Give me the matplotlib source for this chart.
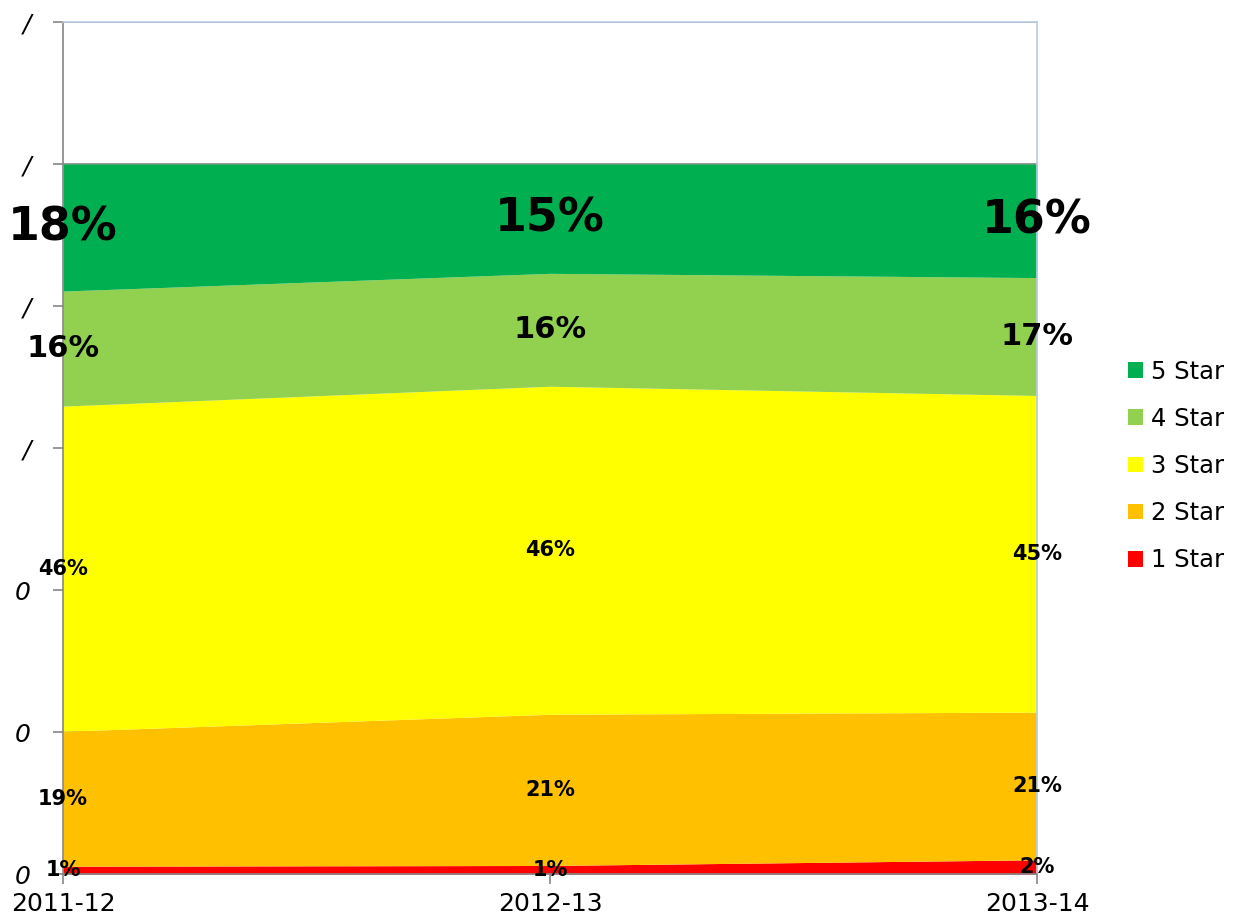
import matplotlib
matplotlib.use("Agg")
import matplotlib.pyplot as plt
import numpy as np
from matplotlib.patches import Patch

years = ["2011-12", "2012-13", "2013-14"]
series_names = ["1 Star", "2 Star", "3 Star", "4 Star", "5 Star"]
one_star = [1.1, 1.2, 2.0]
two_star = [19.0, 21.3, 20.8]
three_star = [45.8, 46.2, 44.6]
four_star = [16.2, 15.9, 16.6]
five_star = [17.9, 15.4, 16.0]
ytick_labels = ["0", "0", "0", "/", "/", "/", "/"]

colors = ["#FF0000", "#FFC000", "#FFFF00", "#92D050", "#00B050"]
label_sizes = [15, 15, 15, 22, 33]

data = np.array([one_star, two_star, three_star, four_star, five_star]) / 100.0
x = np.arange(len(years))

fig = plt.figure(figsize=(12.38, 9.16), dpi=100)
ax = fig.add_axes([63 / 1238, 42 / 916, (1037 - 63) / 1238, (874 - 22) / 916])

ax.set_xlim(0, 2)
ax.set_ylim(0, 1.2)
yt = np.arange(0, 1.21, 0.2)
ax.set_yticks(yt)
ax.set_yticklabels(ytick_labels, fontstyle="italic", fontsize=18)
ax.set_xticks(x)
ax.set_xticklabels(years, fontsize=18)

for v in yt:
    ax.axhline(v, color="#868686", lw=1.2, zorder=0)

bottom = np.zeros(len(years))
for i, (vals, col) in enumerate(zip(data, colors)):
    top = bottom + vals
    ax.fill_between(x, bottom, top, color=col, lw=0, zorder=1)
    for j in range(len(years)):
        ax.text(x[j], (bottom[j] + top[j]) / 2, f"{round(vals[j] * 100)}%",
                ha="center", va="center", fontsize=label_sizes[i],
                fontweight="bold", color="black", zorder=5, clip_on=False)
    bottom = top

for s in ["left", "bottom"]:
    ax.spines[s].set_color("#868686")
    ax.spines[s].set_linewidth(1.2)
for s in ["top", "right"]:
    ax.spines[s].set_color("#B9CDE5")
    ax.spines[s].set_linewidth(1.2)
for s in ax.spines.values():
    s.set_zorder(3)

ax.tick_params(axis="y", direction="out", length=7, width=1.2, color="#868686", pad=16)
ax.tick_params(axis="x", direction="out", length=7, width=1.2, color="#868686", pad=6)

handles = [Patch(facecolor=c, edgecolor="none") for c in colors][::-1]
labels = series_names[::-1]
fig.legend(handles, labels, loc="center left", bbox_to_anchor=(1106 / 1238, 1 - 466 / 916),
           frameon=False, fontsize=17.5, handlelength=0.62, handleheight=0.62,
           handletextpad=0.35, labelspacing=0.95)

fig.savefig("out.png", dpi=100)
